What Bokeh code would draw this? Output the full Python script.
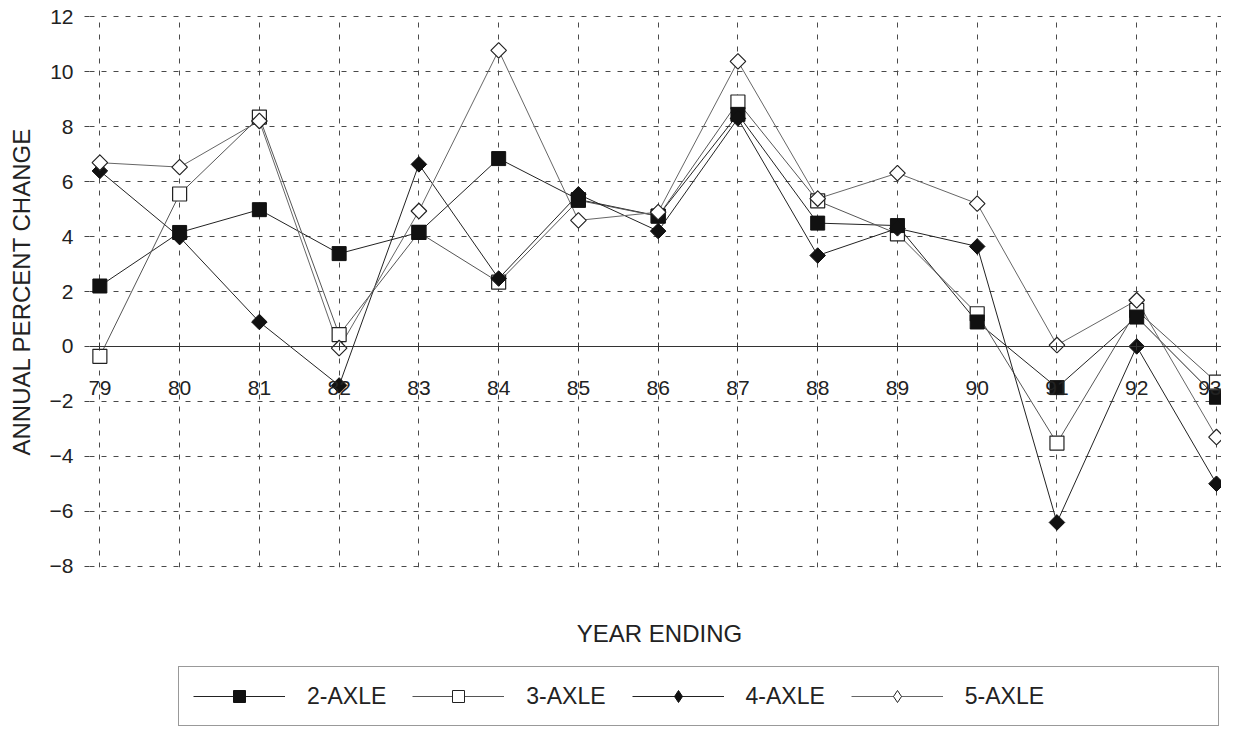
from bokeh.plotting import figure
from bokeh.models import Range1d, FixedTicker, Legend, LegendItem, Label
from bokeh.layouts import column
from bokeh.embed import file_html
from bokeh.resources import INLINE
import math

# ---- data ----
years = [79, 80, 81, 82, 83, 84, 85, 86, 87, 88, 89, 90, 91, 92, 93]
axle2 = [2.2, 4.15, 4.98, 3.38, 4.15, 6.84, 5.35, 4.75, 8.45, 4.49, 4.4, 0.89, -1.5, 1.07, -1.85]
axle3 = [-0.36, 5.55, 8.35, 0.43, 4.15, 2.34, 5.32, 4.74, 8.9, 5.3, 4.1, 1.19, -3.52, 1.31, -1.3]
axle4 = [6.39, 3.98, 0.89, -1.42, 6.63, 2.47, 5.54, 4.2, 8.3, 3.31, 4.3, 3.64, -6.41, 0.0, -5.0]
axle5 = [6.69, 6.53, 8.21, -0.06, 4.93, 10.78, 4.59, 4.89, 10.38, 5.38, 6.31, 5.2, 0.05, 1.68, -3.3]
y_ticks = [-8, -6, -4, -2, 0, 2, 4, 6, 8, 10, 12]
series_names = ["2-AXLE", "3-AXLE", "4-AXLE", "5-AXLE"]

FONT = "Liberation Sans"
TXT = "#222222"
LEFT = 89

p = figure(frame_width=1221 - LEFT, frame_height=552,
           x_range=Range1d(78.87, 93.063), y_range=Range1d(-8.05, 12.05),
           output_backend="svg", toolbar_location=None,
           min_border_left=LEFT, min_border_top=15, min_border_right=0, min_border_bottom=12)
p.outline_line_color = None
p.background_fill_color = "white"
p.border_fill_color = "white"

# y axis
p.yaxis.ticker = FixedTicker(ticks=y_ticks)
p.yaxis.axis_line_color = None
p.yaxis.major_tick_line_color = "#444444"
p.yaxis.major_tick_out = 5
p.yaxis.major_tick_in = 0
p.yaxis.minor_tick_line_color = None
p.yaxis.major_label_standoff = 11
p.yaxis.major_label_text_font = FONT
p.yaxis.major_label_text_font_size = "21px"
p.yaxis.major_label_text_color = TXT
p.yaxis.axis_label = "ANNUAL PERCENT CHANGE"
p.yaxis.axis_label_text_font = FONT
p.yaxis.axis_label_text_font_size = "24px"
p.yaxis.axis_label_text_font_style = "normal"
p.yaxis.axis_label_text_color = TXT
p.yaxis.axis_label_standoff = 12

# x axis drawn along zero
p.xaxis.ticker = FixedTicker(ticks=years)
p.xaxis.fixed_location = 0
p.xaxis.axis_line_color = "#333333"
p.xaxis.axis_line_width = 1
p.xaxis.major_tick_line_color = "#333333"
p.xaxis.major_tick_in = 4
p.xaxis.major_tick_out = 4
p.xaxis.minor_tick_line_color = None
p.xaxis.major_label_standoff = 31
p.xaxis.major_label_text_font = FONT
p.xaxis.major_label_text_font_size = "21px"
p.xaxis.major_label_text_color = TXT

# dashed grid
p.grid.grid_line_color = "#4a4a4a"
p.grid.grid_line_dash = "5 7"
p.grid.grid_line_width = 1

# series
line_colors = {"2-AXLE": "#222222", "3-AXLE": "#555555", "4-AXLE": "#222222", "5-AXLE": "#666666"}
data = {"2-AXLE": axle2, "3-AXLE": axle3, "4-AXLE": axle4, "5-AXLE": axle5}
for name in series_names:
    p.line(years, data[name], line_color=line_colors[name], line_width=1)

rot = math.pi / 4
p.scatter(years, axle3, marker="square", size=14, fill_color="white",
          line_color="#222222", line_width=1.2)
p.scatter(years, axle2, marker="square", size=14, fill_color="#111111",
          line_color="#111111")
p.scatter(years, axle4, marker="square", size=11, angle=rot,
          fill_color="#111111", line_color="#111111")
p.scatter(years, axle5, marker="square", size=11, angle=rot,
          fill_color="white", line_color="#222222", line_width=1.2)

# ---- lower strip: axis title + legend ----
p2 = figure(width=1221, height=148, x_range=Range1d(0, 1), y_range=Range1d(0, 1),
            output_backend="svg", toolbar_location=None,
            min_border_left=0, min_border_right=0, min_border_top=0, min_border_bottom=0)
p2.axis.visible = False
p2.grid.visible = False
p2.outline_line_color = None
p2.background_fill_color = "white"
p2.border_fill_color = "white"

p2.add_layout(Label(x=659 - LEFT, y=94, x_units="screen", y_units="screen", text="YEAR ENDING",
                    text_align="center", text_baseline="middle", text_font=FONT,
                    text_font_size="24px", text_color=TXT))

# legend glyphs: same series, drawn outside this strip's visible range
leg_styles = {
    "2-AXLE": dict(marker="square", fill_color="#111111", line_color="#111111"),
    "3-AXLE": dict(marker="square", fill_color="white", line_color="#222222"),
    "4-AXLE": dict(marker="diamond", fill_color="#111111", line_color="#111111"),
    "5-AXLE": dict(marker="diamond", fill_color="white", line_color="#222222"),
}
items = []
for n in series_names:
    ln = p2.line(years, data[n], line_color=line_colors[n], line_width=1)
    mk = p2.scatter(years, data[n], size=12, **leg_styles[n])
    items.append(LegendItem(label=n, renderers=[ln, mk]))
blank = p2.line(years, axle2, line_alpha=0)
items.append(LegendItem(label=" ", renderers=[blank]))

legend = Legend(items=items,
                orientation="horizontal", location=(178 - LEFT, 1),
                glyph_width=92, glyph_height=30, label_standoff=22, spacing=26,
                padding=14, margin=0, border_line_color="#333333", border_line_width=1,
                label_text_font=FONT, label_text_font_size="23px", label_text_color=TXT,
                background_fill_alpha=0)
p2.add_layout(legend, "center")

layout = column(p, p2, spacing=0)
open("out.html", "w").write(file_html(layout, INLINE))
